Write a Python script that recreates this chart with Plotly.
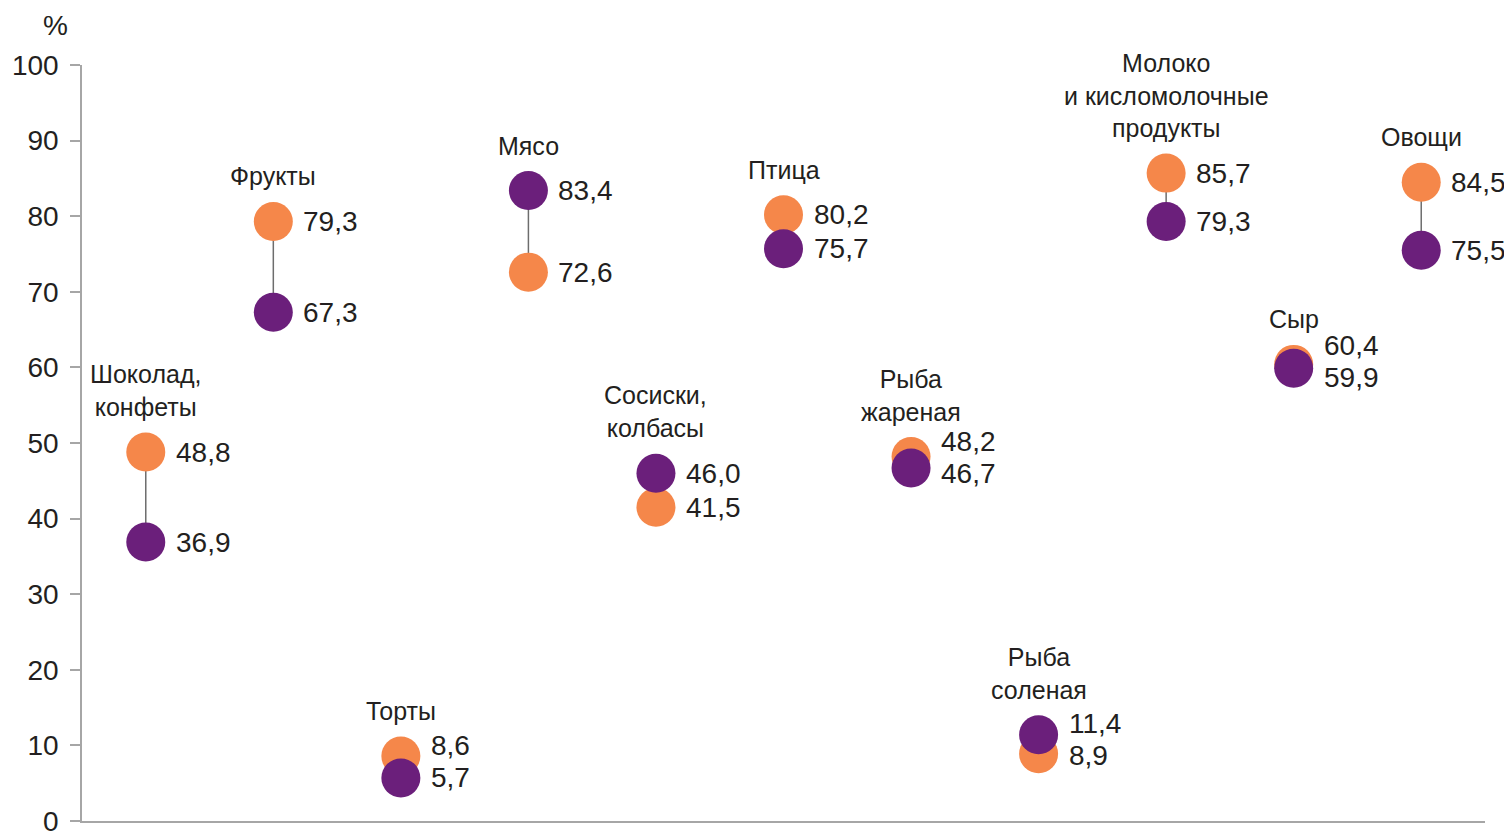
import plotly.graph_objects as go

categories = ["Шоколад,<br>конфеты", "Фрукты", "Торты", "Мясо", "Сосиски,<br>колбасы", "Птица",
              "Рыба<br>жареная", "Рыба<br>соленая", "Молоко<br>и кисломолочные<br>продукты", "Сыр", "Овощи"]
series_orange = [48.8, 79.3, 8.6, 72.6, 41.5, 80.2, 48.2, 8.9, 85.7, 60.4, 84.5]
series_purple = [36.9, 67.3, 5.7, 83.4, 46.0, 75.7, 46.7, 11.4, 79.3, 59.9, 75.5]
y_ticks = [0, 10, 20, 30, 40, 50, 60, 70, 80, 90, 100]

ORANGE = "#F5874A"
PURPLE = "#6B1F7B"
FONT = "Liberation Sans, Arial, sans-serif"
TXT = "#231F20"

n = len(categories)
xs = list(range(n))

fig = go.Figure()

# connecting lines
lx, ly = [], []
for i in xs:
    lx += [i, i, None]
    ly += [series_orange[i], series_purple[i], None]
fig.add_trace(go.Scatter(x=lx, y=ly, mode="lines", line=dict(color="#6d6d6d", width=1.5),
                         hoverinfo="skip", showlegend=False))

fig.add_trace(go.Scatter(x=xs, y=series_orange, mode="markers",
                         marker=dict(size=39, color=ORANGE, line=dict(width=0)), showlegend=False))
fig.add_trace(go.Scatter(x=xs, y=series_purple, mode="markers",
                         marker=dict(size=39, color=PURPLE, line=dict(width=0)), showlegend=False))

# the page body has an 8px default margin, so figure coords = page coords - 8
OFF = 8
PLOT_TOP, PLOT_BOTTOM = 65 - OFF, 821 - OFF
PLOT_LEFT, PLOT_RIGHT = 82 - OFF, 1485 - OFF
px_per_unit = (PLOT_BOTTOM - PLOT_TOP) / 100.0
MIN_SEP = 32

def fmt(v):
    return f"{v:.1f}".replace(".", ",")

annotations = []
for i in xs:
    a, b = series_orange[i], series_purple[i]
    sep = abs(a - b) * px_per_unit
    extra = max(0, (MIN_SEP - sep) / 2)
    for v, other in ((a, b), (b, a)):
        shift = extra if v >= other else -extra
        if extra > 0:
            shift += 5
        annotations.append(dict(x=i, y=v, xref="x", yref="y", text=fmt(v), showarrow=False,
                                xanchor="left", yanchor="middle", xshift=28, yshift=shift,
                                font=dict(family=FONT, size=28, color=TXT)))
    top = max(a, b)
    annotations.append(dict(x=i, y=top, xref="x", yref="y", text=categories[i], showarrow=False,
                            xanchor="center", yanchor="bottom", yshift=29, align="center",
                            font=dict(family=FONT, size=25, color=TXT)))

annotations.append(dict(x=0, y=1, xref="paper", yref="paper", text="%", showarrow=False,
                        xanchor="center", yanchor="bottom", xshift=-27, yshift=22,
                        font=dict(family=FONT, size=28, color=TXT)))

fig.update_layout(
    width=1512, height=833,
    margin=dict(l=PLOT_LEFT, r=1512 - PLOT_RIGHT, t=PLOT_TOP, b=833 - PLOT_BOTTOM, pad=0),
    paper_bgcolor="white", plot_bgcolor="white",
    showlegend=False,
    annotations=annotations,
    xaxis=dict(range=[-0.5, n - 0.5], showgrid=False, zeroline=False, showticklabels=False,
               showline=True, linecolor="#a6a6a6", linewidth=1.5, ticks="", automargin=False),
    yaxis=dict(range=[0, 100], tickvals=y_ticks, showgrid=False, zeroline=False,
               showline=True, linecolor="#a6a6a6", linewidth=1.5, automargin=False,
               ticks="outside", ticklen=10, tickcolor="#a6a6a6", tickwidth=1.5,
               ticklabelstandoff=6,
               tickfont=dict(family=FONT, size=28, color=TXT)),
)

fig.write_html("out.html")
